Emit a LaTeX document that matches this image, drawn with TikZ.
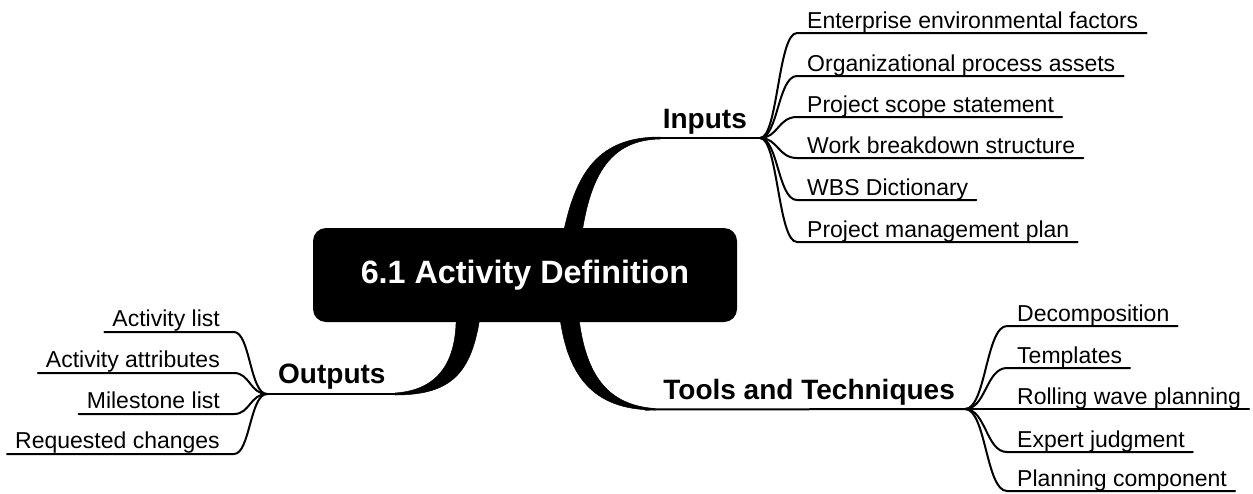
\documentclass[tikz,border=0pt]{standalone}
\usepackage{fontspec}
\setmainfont{Liberation Sans}
\usetikzlibrary{calc}
\begin{document}
\begin{tikzpicture}[x=1pt,y=-1pt,
  leaf/.style={inner sep=0pt, font=\fontsize{23}{25}\selectfont},
  branchlbl/.style={inner sep=0pt, font=\fontsize{28}{31}\selectfont\bfseries},
  twig/.style={line width=2pt, line cap=round},
  limb/.style={fill=black, draw=black, line width=0.5pt},
  corebox/.style={fill=black, rounded corners=13pt, minimum width=424pt, minimum height=94pt,
    text=white, font=\fontsize{32.3}{35}\selectfont\bfseries, inner sep=0pt}]
\useasboundingbox (0,0) rectangle (1253,493);

% junction points
\coordinate (ji) at (760,138);
\coordinate (jt) at (965,409);
\coordinate (jo) at (267,394);

% thick limbs
\fill[limb] (562,240) .. controls (575,170) and (600,137) .. (660,137)
   -- (660,139) .. controls (612,140) and (590,172) .. (581,240) -- cycle;
\fill[limb] (559,310) .. controls (566,375) and (592,410) .. (655,410)
   -- (655,408.5) .. controls (605,405) and (584,372) .. (578,310) -- cycle;
\fill[limb] (481,310) .. controls (473,370) and (455,395) .. (395,395)
   -- (395,393) .. controls (440,390) and (458,360) .. (456,310) -- cycle;

% main lines
\draw[twig] (650,138) -- (ji);
\draw[twig] (645,409.5) -- (jt);
\draw[twig] (405,394) -- (jo);

% central topic
\node[corebox] (core) at (525,275) {6.1 Activity Definition};

% branch labels
\node[branchlbl, anchor=base east] (inputs) at (747,128) {Inputs};
\node[branchlbl, anchor=base east] (tools) at (955,399) {Tools and Techniques};
\node[branchlbl, anchor=base west] (outputs) at (278,383) {Outputs};

% inputs children
\foreach \nm/\yy/\txt in {i1/33/Enterprise environmental factors,
                          i2/76/Organizational process assets,
                          i3/117/Project scope statement,
                          i4/158/Work breakdown structure,
                          i5/200/WBS Dictionary,
                          i6/242/Project management plan}{
  \node[leaf, anchor=base west] (\nm) at (807,{\yy-5}) {\txt};
  \draw[twig] (ji) .. controls (778,138) and (778,\yy) .. (797,\yy)
     -- ($(\nm.base east)+(8,5)$);
}

% tools children
\foreach \nm/\yy/\txt in {t1/326/Decomposition,
                          t2/368/Templates,
                          t3/409/Rolling wave planning,
                          t4/452/Expert judgment,
                          t5/491/Planning component}{
  \node[leaf, anchor=base west] (\nm) at (1017,{\yy-5}) {\txt};
  \draw[twig] (jt) .. controls (986,409) and (986,\yy) .. (1007,\yy)
     -- ($(\nm.base east)+(8,5)$);
}

% outputs children
\foreach \nm/\yy/\txt in {o1/332/Activity list,
                          o2/373/Activity attributes,
                          o3/414/Milestone list,
                          o4/454/Requested changes}{
  \node[leaf, anchor=base east] (\nm) at (220,{\yy-6}) {\txt};
  \draw[twig] (jo) .. controls (250,394) and (250,\yy) .. (234,\yy)
     -- ($(\nm.base west)+(-8,6)$);
}
\end{tikzpicture}
\end{document}
